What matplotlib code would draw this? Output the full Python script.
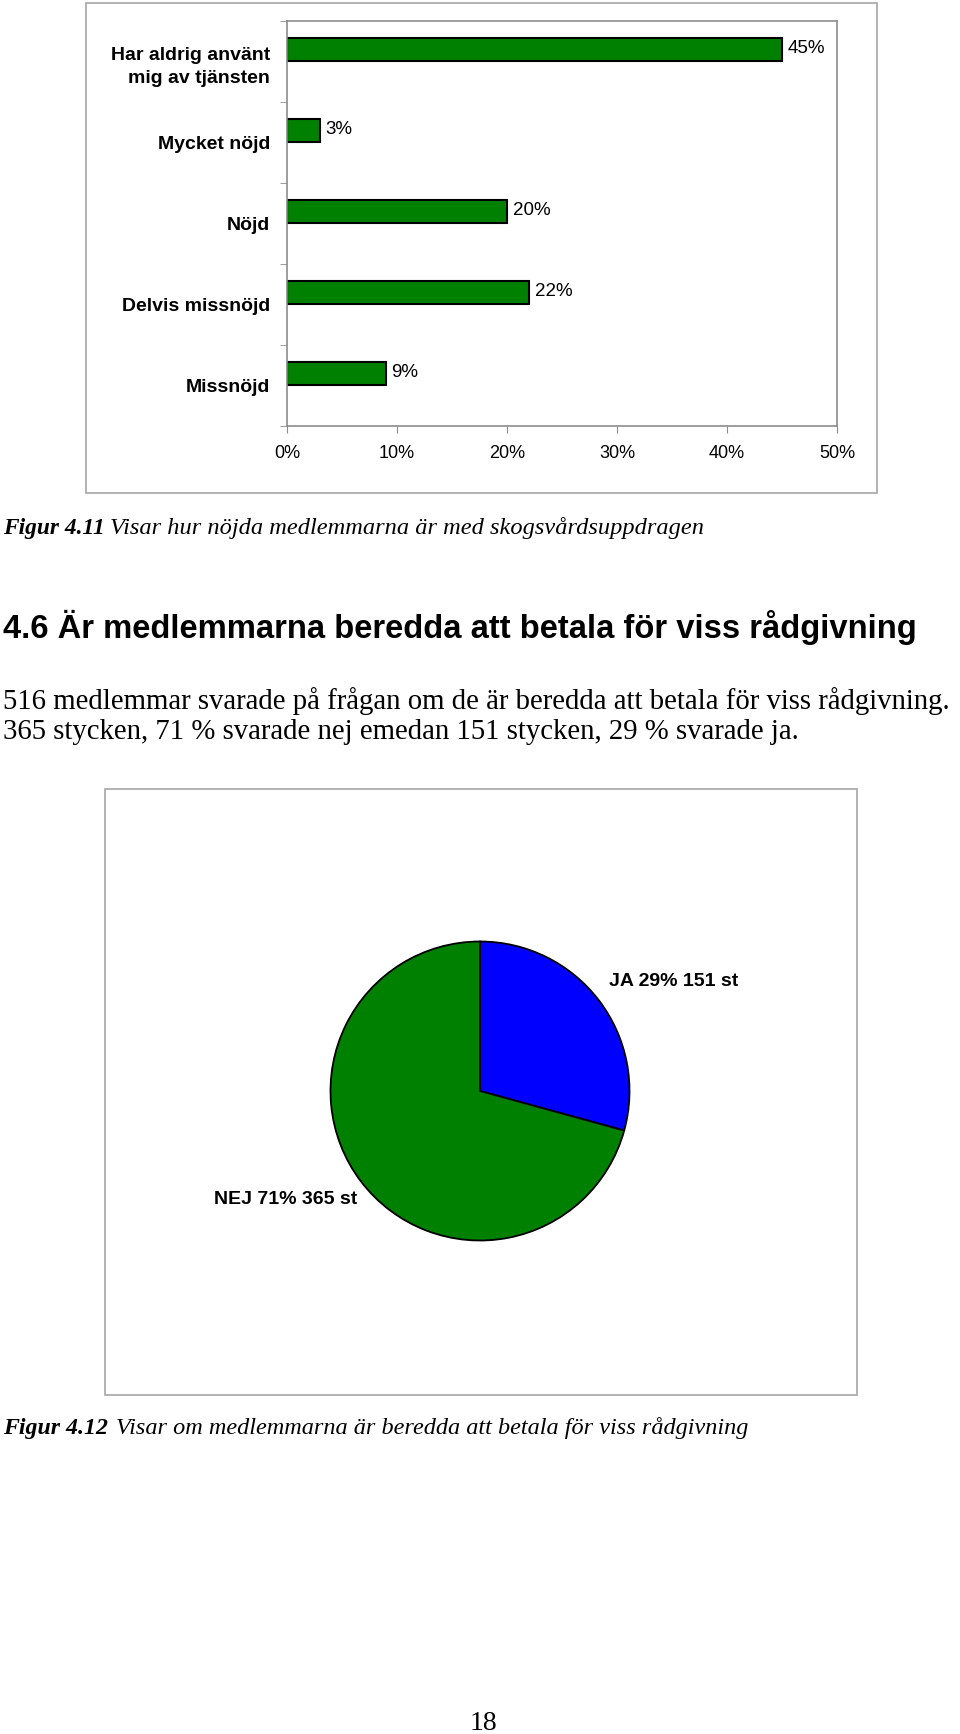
import numpy as np
import matplotlib
matplotlib.use('Agg')
import matplotlib.pyplot as plt
from matplotlib.patches import Rectangle
from matplotlib.ticker import FuncFormatter

# data
kategorier = ['Har aldrig använt\nmig av tjänsten', 'Mycket nöjd', 'Nöjd', 'Delvis missnöjd', 'Missnöjd']
andel = [45, 3, 20, 22, 9]
andel_text = ['45%', '3%', '20%', '22%', '9%']

svar = ['JA', 'NEJ']
antal = [151, 365]
svar_procent = [29, 71]

W, H = 960, 1734
SANS = 'Liberation Sans'
SERIF = 'Liberation Serif'
GRAY = '#8c8c8c'


def fx(x):
    return x / W


def fy(y):
    return 1 - y / H


fig = plt.figure(figsize=(W / 100, H / 100), dpi=100)

# ram runt diagrammen
fig.patches.append(Rectangle((fx(86), fy(493)), fx(877) - fx(86), fy(3) - fy(493),
                             transform=fig.transFigure, fill=False, edgecolor='#a6a6a6', lw=1.2))
fig.patches.append(Rectangle((fx(105), fy(1395)), fx(857) - fx(105), fy(789) - fy(1395),
                             transform=fig.transFigure, fill=False, edgecolor='#a6a6a6', lw=1.2))

# stapeldiagram
ax = fig.add_axes([fx(287), fy(426), fx(837) - fx(287), fy(21) - fy(426)])
pos = np.arange(len(kategorier))
bar_h = 0.28
ax.barh(pos - bar_h / 2 - 0.01, andel, height=bar_h, color='#008000', edgecolor='black', lw=1.5)
for p, v, t in zip(pos, andel, andel_text):
    ax.text(v + 0.5, p - bar_h / 2 - 0.02, t, va='center', ha='left', fontsize=13.5, family=SANS)
ax.set_xlim(0, 50)
ax.set_ylim(4.5, -0.5)
ax.set_xticks(range(0, 51, 10))
ax.xaxis.set_major_formatter(FuncFormatter(lambda v, p: '%d%%' % v))
ax.set_yticks(pos)
ax.set_yticklabels(kategorier, fontsize=14, fontweight='bold', family=SANS, linespacing=1.5)
ax.set_yticks(np.arange(-0.5, 5, 1), minor=True)
ax.tick_params(axis='y', which='major', length=0, pad=12)
ax.tick_params(axis='y', which='minor', length=5, color=GRAY, direction='out')
ax.tick_params(axis='x', length=5, color=GRAY, direction='out', pad=9, labelsize=13)
for lbl in ax.get_xticklabels():
    lbl.set_family(SANS)
for s in ax.spines.values():
    s.set_color(GRAY)
    s.set_linewidth(1.2)

# texter
fig.text(fx(3), fy(534), 'Figur 4.11', fontsize=16.8, family=SERIF, style='italic', fontweight='bold')
fig.text(fx(110), fy(534), 'Visar hur nöjda medlemmarna är med skogsvårdsuppdragen',
         fontsize=17.6, family=SERIF, style='italic')
fig.text(fx(3), fy(638), '4.6 Är medlemmarna beredda att betala för viss rådgivning',
         fontsize=23.6, family=SANS, fontweight='bold')
fig.text(fx(3), fy(709), '516 medlemmar svarade på frågan om de är beredda att betala för viss rådgivning.',
         fontsize=20.7, family=SERIF)
fig.text(fx(3), fy(739), '365 stycken, 71 % svarade nej emedan 151 stycken, 29 % svarade ja.',
         fontsize=20.7, family=SERIF)

# cirkeldiagram
r = 151
pax = fig.add_axes([fx(480 - r), fy(1091 + r), fx(2 * r), fy(1091 - r) - fy(1091 + r)])
pax.pie(antal, colors=['#0000ff', '#008000'], startangle=90, counterclock=False,
        wedgeprops=dict(edgecolor='black', linewidth=1.3))
pax.set_xlim(-1.01, 1.01)
pax.set_ylim(-1.01, 1.01)
pax.set_aspect('equal')

fig.text(fx(609), fy(981), '%s %d%% %d st' % (svar[0], svar_procent[0], antal[0]),
         fontsize=14, family=SANS, fontweight='bold', va='center')
fig.text(fx(214), fy(1200), '%s %d%% %d st' % (svar[1], svar_procent[1], antal[1]),
         fontsize=14, family=SANS, fontweight='bold', va='center')

fig.text(fx(3), fy(1434), 'Figur 4.12', fontsize=17.2, family=SERIF, style='italic', fontweight='bold')
fig.text(fx(116), fy(1434), 'Visar om medlemmarna är beredda att betala för viss rådgivning',
         fontsize=17.5, family=SERIF, style='italic')

fig.text(fx(483), fy(1730), '18', fontsize=20, family=SERIF, ha='center')

fig.savefig('out.png', dpi=100)
